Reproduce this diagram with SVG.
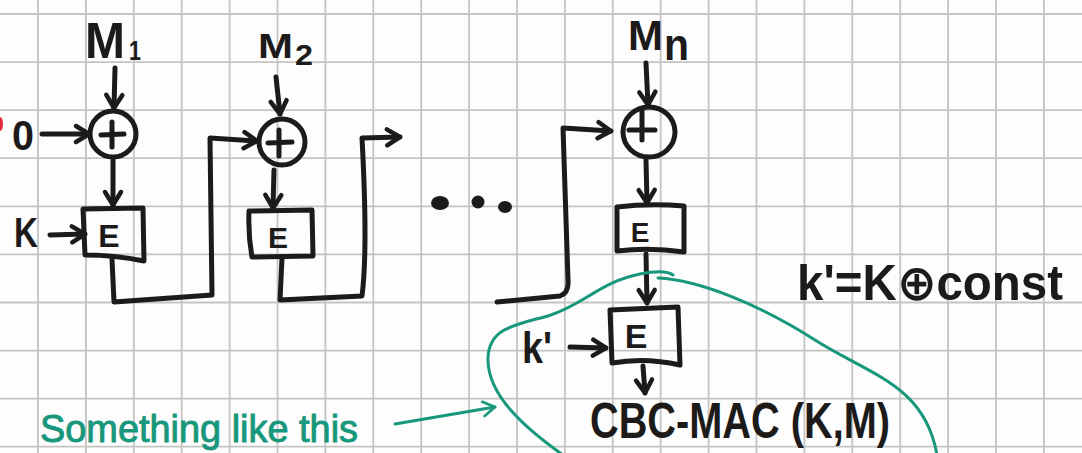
<svg xmlns="http://www.w3.org/2000/svg" width="1082" height="453" viewBox="0 0 1082 453">
  <style>
    .grid line { stroke: #c4c5c3; stroke-width: 1.8; }
    .ink { fill: none; stroke: #1d1a1a; stroke-width: 5; stroke-linecap: round; stroke-linejoin: round; }
    .green { fill: none; stroke: #17977b; stroke-width: 3; stroke-linecap: round; stroke-linejoin: round; }
    .lbl { font-family: "Liberation Sans", "DejaVu Sans", Arial, sans-serif; font-weight: bold; fill: #1d1a1a; }
    .note { font-family: "Liberation Sans", "DejaVu Sans", Arial, sans-serif; fill: #17977b; stroke: #17977b; stroke-width: 0.9; }
  </style>
  <defs>
    <marker id="ah" viewBox="0 0 20 20" refX="17" refY="10" markerWidth="20" markerHeight="20" markerUnits="userSpaceOnUse" orient="auto" overflow="visible">
      <path d="M4,2 L17,10 L4,18" fill="none" stroke="#1d1a1a" stroke-width="4.5" stroke-linecap="round" stroke-linejoin="round"/>
    </marker>
    <marker id="ahg" viewBox="0 0 20 20" refX="17" refY="10" markerWidth="18" markerHeight="18" markerUnits="userSpaceOnUse" orient="auto" overflow="visible">
      <path d="M4,2 L17,10 L4,18" fill="none" stroke="#17977b" stroke-width="3" stroke-linecap="round" stroke-linejoin="round"/>
    </marker>
  </defs>

  <rect width="1082" height="453" fill="#fdfdfd"/>

  <!-- graph paper -->
  <g class="grid">
    <line x1="38" y1="0" x2="38" y2="453"/>
    <line x1="85.9" y1="0" x2="85.9" y2="453"/>
    <line x1="133.8" y1="0" x2="133.8" y2="453"/>
    <line x1="181.7" y1="0" x2="181.7" y2="453"/>
    <line x1="229.6" y1="0" x2="229.6" y2="453"/>
    <line x1="277.5" y1="0" x2="277.5" y2="453"/>
    <line x1="325.4" y1="0" x2="325.4" y2="453"/>
    <line x1="373.3" y1="0" x2="373.3" y2="453"/>
    <line x1="421.2" y1="0" x2="421.2" y2="453"/>
    <line x1="469.1" y1="0" x2="469.1" y2="453"/>
    <line x1="517" y1="0" x2="517" y2="453"/>
    <line x1="564.9" y1="0" x2="564.9" y2="453"/>
    <line x1="612.8" y1="0" x2="612.8" y2="453"/>
    <line x1="660.7" y1="0" x2="660.7" y2="453"/>
    <line x1="708.6" y1="0" x2="708.6" y2="453"/>
    <line x1="756.5" y1="0" x2="756.5" y2="453"/>
    <line x1="804.4" y1="0" x2="804.4" y2="453"/>
    <line x1="852.3" y1="0" x2="852.3" y2="453"/>
    <line x1="900.2" y1="0" x2="900.2" y2="453"/>
    <line x1="948.1" y1="0" x2="948.1" y2="453"/>
    <line x1="996" y1="0" x2="996" y2="453"/>
    <line x1="1043.9" y1="0" x2="1043.9" y2="453"/>
    <line x1="0" y1="14" x2="1082" y2="14"/>
    <line x1="0" y1="62.1" x2="1082" y2="62.1"/>
    <line x1="0" y1="110.2" x2="1082" y2="110.2"/>
    <line x1="0" y1="158.2" x2="1082" y2="158.2"/>
    <line x1="0" y1="206.3" x2="1082" y2="206.3"/>
    <line x1="0" y1="254.4" x2="1082" y2="254.4"/>
    <line x1="0" y1="302.5" x2="1082" y2="302.5"/>
    <line x1="0" y1="350.6" x2="1082" y2="350.6"/>
    <line x1="0" y1="398.6" x2="1082" y2="398.6"/>
    <line x1="0" y1="446.7" x2="1082" y2="446.7"/>
  </g>

  <!-- stray red mark at the margin -->
  <ellipse cx="0" cy="124" rx="3" ry="7" fill="#e3243f"/>

  <!-- block 1 -->
  <g id="m1">
    <text class="lbl" x="85" y="58" font-size="50" textLength="40" lengthAdjust="spacingAndGlyphs">M</text>
    <text class="lbl" x="129" y="60" font-size="28" textLength="12" lengthAdjust="spacingAndGlyphs">1</text>
  </g>
  <g id="iv">
    <text class="lbl" x="12" y="150" font-size="42" textLength="22" lengthAdjust="spacingAndGlyphs">0</text>
  </g>
  <g id="xor1">
    <circle class="ink" cx="113" cy="134" r="23"/>
    <path class="ink" d="M112,122 L112,147 M101,135 L124,134"/>
  </g>
  <g id="k1">
    <text class="lbl" x="14" y="247" font-size="42" textLength="24" lengthAdjust="spacingAndGlyphs">K</text>
  </g>
  <g id="enc1">
    <path class="ink" d="M83,209 L143,208 L144,261 Q115,255 85,255 Z"/>
    <text class="lbl" x="109" y="247" font-size="32" text-anchor="middle">E</text>
  </g>

  <!-- block 2 -->
  <g id="m2">
    <text class="lbl" x="258" y="58" font-size="35" textLength="35" lengthAdjust="spacingAndGlyphs">M</text>
    <text class="lbl" x="295" y="65" font-size="30" textLength="18" lengthAdjust="spacingAndGlyphs">2</text>
  </g>
  <g id="xor2">
    <circle class="ink" cx="282" cy="142" r="23"/>
    <path class="ink" d="M279,130 L279,156 M268,143 L292,142"/>
  </g>
  <g id="enc2">
    <path class="ink" d="M249,211 L312,210 L313,256 L252,257 Q248,235 249,211 Z"/>
    <text class="lbl" x="278" y="248" font-size="30" text-anchor="middle">E</text>
  </g>

  <!-- ellipsis -->
  <g id="dots" fill="#1d1a1a">
    <ellipse cx="440" cy="203" rx="9" ry="7"/>
    <ellipse cx="478" cy="202" rx="6.5" ry="6.5"/>
    <ellipse cx="505" cy="207" rx="7" ry="6"/>
  </g>

  <!-- block n -->
  <g id="mn">
    <text class="lbl" x="628" y="50" font-size="42" textLength="35" lengthAdjust="spacingAndGlyphs">M</text>
    <text class="lbl" x="664" y="60" font-size="44" textLength="25" lengthAdjust="spacingAndGlyphs">n</text>
  </g>
  <g id="xorn">
    <ellipse class="ink" cx="649" cy="132" rx="26" ry="25"/>
    <path class="ink" d="M642,110 L642,140 M629,130 L655,130"/>
  </g>
  <g id="encn">
    <path class="ink" d="M617,207 Q650,203 684,206 L684,252 Q650,247 617,251 Z"/>
    <text class="lbl" x="640" y="242" font-size="28" text-anchor="middle">E</text>
  </g>

  <!-- final encryption under k' -->
  <g id="kprime">
    <text class="lbl" x="522" y="363" font-size="45" textLength="30" lengthAdjust="spacingAndGlyphs">k'</text>
  </g>
  <g id="encfinal">
    <path class="ink" d="M610,310 L678,307 L680,365 Q645,357 612,363 Z"/>
    <text class="lbl" x="636" y="348" font-size="34" text-anchor="middle">E</text>
  </g>
  <g id="output">
    <text class="lbl" x="590" y="438" font-size="50" textLength="300" lengthAdjust="spacingAndGlyphs">CBC-MAC (K,M)</text>
  </g>
  <g id="keydef">
    <text class="lbl" x="797" y="300" font-size="50" textLength="266" lengthAdjust="spacingAndGlyphs">k'=K⊕const</text>
  </g>

  <!-- connectors -->
  <g id="connectors">
    <path class="ink" d="M115,68 L114,108" marker-end="url(#ah)"/>
    <path class="ink" d="M42,134 L89,134" marker-end="url(#ah)"/>
    <path class="ink" d="M113,160 L113,205" marker-end="url(#ah)"/>
    <path class="ink" d="M50,235 L85,234" marker-end="url(#ah)"/>
    <path class="ink" d="M112,259 L114,302 L212,295 L210,138 L257,141" marker-end="url(#ah)"/>
    <path class="ink" d="M276,77 L280,114" marker-end="url(#ah)"/>
    <path class="ink" d="M274,170 L273,208" marker-end="url(#ah)"/>
    <path class="ink" d="M282,258 L280,300 L362,296 Q368,250 362,138 L400,137" marker-end="url(#ah)"/>
    <path class="ink" d="M497,302 L560,296 Q569,293 568,280 L563,128 L611,131" marker-end="url(#ah)"/>
    <path class="ink" d="M646,63 L648,105" marker-end="url(#ah)"/>
    <path class="ink" d="M646,160 L647,203" marker-end="url(#ah)"/>
    <path class="ink" d="M646,254 L647,303" marker-end="url(#ah)"/>
    <path class="ink" d="M570,347 L606,348" marker-end="url(#ah)"/>
    <path class="ink" d="M643,366 L645,393" marker-end="url(#ah)"/>
  </g>

  <!-- margin remark -->
  <g id="remark">
    <text class="note" x="40" y="442" font-size="38" textLength="318" lengthAdjust="spacingAndGlyphs">Something like this</text>
    <path class="green" d="M395,424 L495,407" marker-end="url(#ahg)"/>
    <path class="green" d="M563,455 C525,428 487,395 488,358 C489,328 515,325 548,316 C585,304 600,282 640,274 C655,271 668,271 673,275 M658,278 C700,280 760,305 815,340 C870,375 925,385 937,455"/>
  </g>
</svg>
